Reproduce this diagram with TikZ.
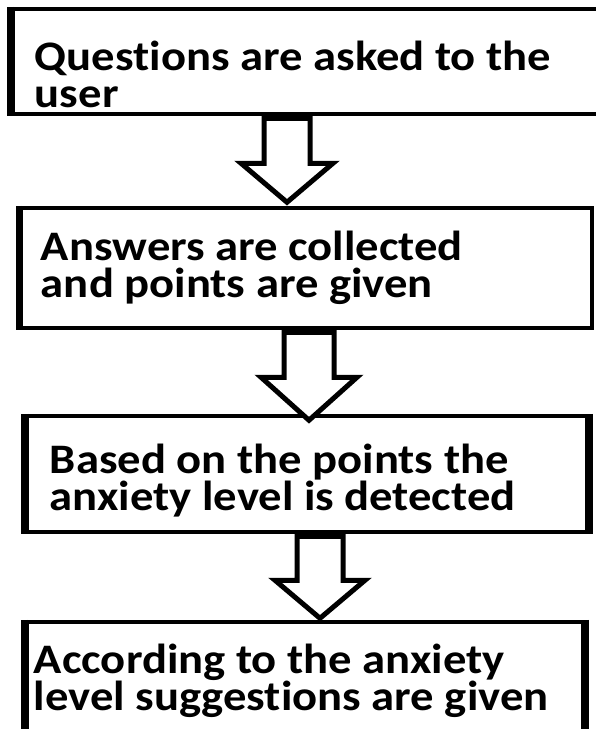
\documentclass[tikz,border=0pt]{standalone}
\usepackage{fontspec}
\setmainfont[Ligatures=NoCommon, FakeStretch=1.11]{Carlito}
\usetikzlibrary{calc}
\begin{document}
\begin{tikzpicture}[x=1pt,y=-1pt,
  box/.style={draw=black, line width=4.5pt, inner sep=0pt},
  thickside/.style={draw=black, line width=#1, line cap=butt},
  barrow/.style={draw=black, fill=white, line width=5pt, line join=miter},
  txt/.style={anchor=north west, inner sep=0pt, align=left, text=black,
    font=\bfseries\fontsize{42}{37}\selectfont},
  pics/blockarrow/.style args={#1/#2/#3/#4}{code={
    \draw[barrow] (-#1,2) -- (-#1,#3) -- (-#2,#3) -- (0,#4) -- (#2,#3) -- (#1,#3) -- (#1,2) -- cycle;}}
]
\useasboundingbox (0,0) rectangle (595,729);
\fill[white] (0,0) rectangle (595,729);

% boxes
\node[box, minimum width=587pt, minimum height=105pt] (b1) at (306.5,61.5) {};
\node[box, minimum width=571pt, minimum height=120pt] (b2) at (306.5,268) {};
\node[box, minimum width=560pt, minimum height=116pt] (b3) at (307,474) {};
\node[box, minimum width=556pt, minimum height=123pt] (b4) at (305,683.5) {};

% heavier sides
\draw[thickside=7pt] (b1.north west) -- (b1.south west);
\draw[thickside=6pt] (b2.north west) -- (b2.south west);
\draw[thickside=8pt] (b3.north west) -- (b3.south west);
\draw[thickside=8pt] (b3.north east) -- (b3.south east);
\draw[thickside=7pt] (b4.north west) -- (b4.south west);
\draw[thickside=7pt] (b4.north east) -- (b4.south east);

% texts
\node[txt] (t1) at ($(b1.north west)+(24,34)$) {\rule{0pt}{30pt}Questions are asked to the\\user};
\node[txt] (t2) at ($(b2.north west)+(22,25)$) {\rule{0pt}{30pt}Answers are collected\\and points are given};
\node[txt] (t3) at ($(b3.north west)+(25,30)$) {\rule{0pt}{30pt}Based on the points the\\anxiety level is detected};
\node[txt] (t4) at ($(b4.north west)+(9,24)$) {\rule{0pt}{30pt}According to the anxiety\\level suggestions are given};

% arrows
\coordinate (a1) at ($(b1.south)+(-19.5,0)$);
\coordinate (a2) at ($(b2.south)+(2.5,0)$);
\coordinate (a3) at ($(b3.south)+(13,0)$);
\pic at (a1) {blockarrow={23/46/47/86}};
\pic at (a2) {blockarrow={25/48/47/90}};
\pic at (a3) {blockarrow={23/45/46/84}};
\end{tikzpicture}
\end{document}
